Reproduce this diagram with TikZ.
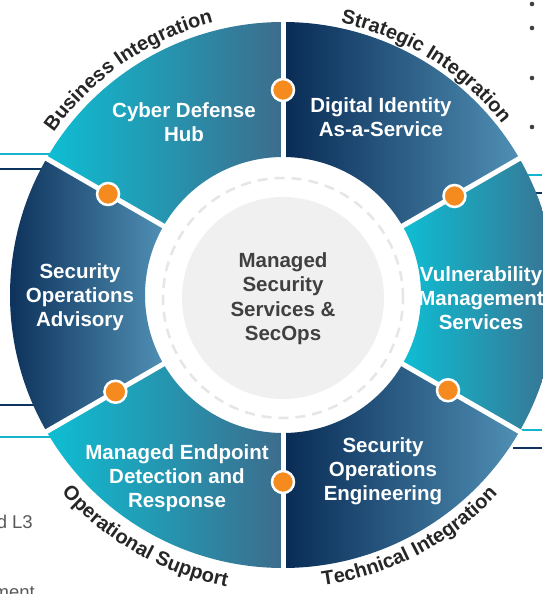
\documentclass[tikz,border=0pt]{standalone}
\usepackage{fontspec}
\setmainfont{Liberation Sans}
\usetikzlibrary{decorations.text}
\definecolor{cyanA}{RGB}{14,190,211}
\definecolor{tealB}{RGB}{61,108,140}
\definecolor{navyA}{RGB}{8,43,85}
\definecolor{steelB}{RGB}{80,143,180}
\definecolor{dotorange}{RGB}{245,138,31}
\definecolor{txtgray}{RGB}{64,64,64}
\definecolor{arcgray}{RGB}{38,38,38}
\definecolor{sidegray}{RGB}{89,89,89}
\definecolor{linecyan}{RGB}{20,180,204}
\definecolor{linenavy}{RGB}{12,52,95}
\definecolor{centergray}{RGB}{240,240,240}
\definecolor{dashgray}{RGB}{230,230,230}
\newcommand\ringsector[3]{\shade[#3] (#1:273) arc[start angle=#1,end angle=#2,radius=273] -- (#2:138) arc[start angle=#2,end angle=#1,radius=138] -- cycle;}
\begin{document}
\begin{tikzpicture}[x=1pt,y=1pt,
  seglabel/.style={text=white, align=center, font=\fontsize{20.5}{24}\selectfont\bfseries},
  hublabel/.style={text=txtgray, align=center, font=\fontsize{20.5}{24.5}\selectfont\bfseries},
  cyanseg/.style={left color=cyanA, right color=tealB},
  navyseg/.style={left color=navyA, right color=steelB},
  divider/.style={white, line width=5pt},
  odot/.style={circle, fill=dotorange, draw=white, line width=2.5pt, minimum size=22pt, inner sep=0pt},
  sideline/.style={line width=2pt},
  sidetext/.style={anchor=base east, inner sep=0pt, text=sidegray, font=\fontsize{18.5}{20}\selectfont},
  arctext/.style={decorate, decoration={text along path, text align=center, text color=arcgray, text={#1}}},
]
\useasboundingbox (-283,-299) rectangle (259,295);
\fill[white] (-283,-299) rectangle (259,295);

% surrounding slide fragments
\draw[sideline, linecyan] (-283,141) -- (-230,141);
\draw[sideline, linenavy] (-283,126) -- (-230,126);
\draw[sideline, linenavy] (-283,-110) -- (-230,-110);
\draw[sideline, linecyan] (-283,-142) -- (-230,-142);
\draw[sideline, linecyan] (230,120) -- (259,120);
\draw[sideline, linenavy] (230,102) -- (259,102);
\draw[sideline, linecyan] (230,-135) -- (259,-135);
\draw[sideline, linenavy] (230,-153) -- (259,-153);
\node[sidetext] (sideA) at (-250,-233) {d L3};
\node[sidetext] (sideB) at (-248,-303) {ment};
\foreach \yy in {291,267,217,168} \fill[txtgray] (249,\yy) circle[radius=2.3];

% ring
\ringsector{90}{150}{cyanseg}
\ringsector{30}{90}{navyseg}
\ringsector{-30}{30}{cyanseg}
\ringsector{-90}{-30}{navyseg}
\ringsector{210}{270}{cyanseg}
\ringsector{150}{210}{navyseg}
\foreach \a in {30,90,150,210,270,330} \draw[divider] (\a:136) -- (\a:275);

% centre
\fill[centergray] (0,-3) circle[radius=101];
\draw[dashgray, line width=2.5pt, dash pattern=on 10pt off 7pt] (0,-3) circle[radius=120];
\node[hublabel] (hub) at (0,-3.5) {Managed\\Security\\Services \&\\SecOps};

% dots
\node[odot] (d90) at (90:205) {};
\node[odot] (d30) at (30:198) {};
\node[odot] (d330) at (330:190.5) {};
\node[odot] (d270) at (270:187) {};
\node[odot] (d210) at (210:193.5) {};
\node[odot] (d150) at (150:202) {};

% segment labels
\node[seglabel] (cdh) at (-99,173) {Cyber Defense\\Hub};
\node[seglabel] (dia) at (98,178) {Digital Identity\\As-a-Service};
\node[seglabel] (vms) at (198,-3) {Vulnerability\\Management\\Services};
\node[seglabel] (soe) at (100,-176) {Security\\Operations\\Engineering};
\node[seglabel] (medr) at (-106,-183) {Managed Endpoint\\Detection and\\Response};
\node[seglabel] (soa) at (-203,-2) {Security\\Operations\\Advisory};

% arc labels
\begin{scope}
\bfseries\fontsize{20}{20}\selectfont
\path[arctext={|\bfseries\fontsize{20}{20}\selectfont|Business Integration}]
  (146:281) arc[start angle=146, end angle=103, radius=281];
\path[arctext={|\bfseries\fontsize{20}{20}\selectfont|Strategic Integration}]
  (79:278) arc[start angle=79, end angle=37, radius=278];
\path[arctext={|\bfseries\fontsize{20}{20}\selectfont|Operational Support}]
  (220:297) arc[start angle=220, end angle=260.8, radius=297];
\path[arctext={|\bfseries\fontsize{20}{20}\selectfont|Technical Integration}]
  (277:293) arc[start angle=277, end angle=318, radius=293];
\end{scope}
\end{tikzpicture}
\end{document}
